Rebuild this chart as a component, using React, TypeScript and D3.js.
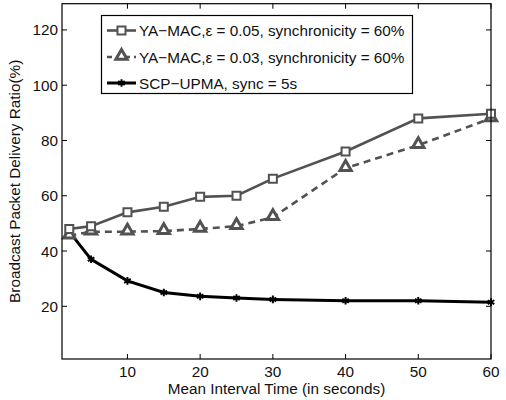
import React, { useRef, useEffect } from "react";
import * as d3 from "d3";

const xValues = [2, 5, 10, 15, 20, 25, 30, 40, 50, 60];
const yaMac05 = [48, 49, 54, 56, 59.6, 60, 66.2, 76, 88, 89.7];
const yaMac03 = [45.5, 47, 47, 47.2, 48, 49, 52.2, 70, 78.3, 88];
const scpUpma = [47, 37, 29.2, 25, 23.6, 23, 22.5, 22, 22, 21.5];
const xTicks = [10, 20, 30, 40, 50, 60];
const yTicks = [20, 40, 60, 80, 100, 120];
const legendLabels = [
  "YA\u2212MAC,\u03b5 = 0.05, synchronicity = 60%",
  "YA\u2212MAC,\u03b5 = 0.03, synchronicity = 60%",
  "SCP\u2212UPMA, sync = 5s",
];

const GRAY = "#525252";

const App = () => {
  const svgRef = useRef<SVGSVGElement>(null);

  useEffect(() => {
    document.body.style.margin = "0";
    const width = 506;
    const height = 400;
    const left = 62;
    const right = 491;
    const top = 3.7;
    const bottom = 359;
    const font = "'Liberation Sans', Arial, sans-serif";
    const fs = 15.3;

    const svg = d3
      .select(svgRef.current)
      .attr("width", width)
      .attr("height", height);
    svg.selectAll("*").remove();

    const x = d3.scaleLinear().domain([1, 60]).range([left, right]);
    const y = d3.scaleLinear().domain([0.93, 129.5]).range([bottom, top]);

    // ticks (inward, both sides)
    const g = svg.append("g");
    xTicks.forEach((t) => {
      g.append("line").attr("x1", x(t)).attr("x2", x(t)).attr("y1", bottom).attr("y2", bottom - 5).attr("stroke", "#000");
      g.append("line").attr("x1", x(t)).attr("x2", x(t)).attr("y1", top).attr("y2", top + 5).attr("stroke", "#000");
      g.append("text")
        .attr("x", x(t))
        .attr("y", bottom + 17.5)
        .attr("text-anchor", "middle")
        .attr("font-family", font)
        .attr("font-size", fs)
        .attr("fill", "#111")
        .text(t);
    });
    yTicks.forEach((t) => {
      g.append("line").attr("x1", left).attr("x2", left + 5).attr("y1", y(t)).attr("y2", y(t)).attr("stroke", "#000");
      g.append("line").attr("x1", right).attr("x2", right - 5).attr("y1", y(t)).attr("y2", y(t)).attr("stroke", "#000");
      g.append("text")
        .attr("x", left - 4)
        .attr("y", y(t) + 5.5)
        .attr("text-anchor", "end")
        .attr("font-family", font)
        .attr("font-size", fs)
        .attr("fill", "#111")
        .text(t);
    });

    const line = d3
      .line<number>()
      .x((_, i) => x(xValues[i]))
      .y((d) => y(d));

    const tri = d3.symbol().type(d3.symbolTriangle).size(55);
    const sq = d3.symbol().type(d3.symbolSquare).size(64);
    const ast = d3.symbol().type(d3.symbolAsterisk).size(40);

    // SCP-UPMA
    svg.append("path").datum(scpUpma).attr("d", line).attr("fill", "none").attr("stroke", "#000").attr("stroke-width", 3);
    svg
      .selectAll(".ast")
      .data(scpUpma)
      .join("path")
      .attr("transform", (d, i) => `translate(${x(xValues[i])},${y(d)})`)
      .attr("d", ast)
      .attr("fill", "none")
      .attr("stroke", "#000")
      .attr("stroke-width", 2);

    // YA-MAC 0.03
    svg
      .append("path")
      .datum(yaMac03)
      .attr("d", line)
      .attr("fill", "none")
      .attr("stroke", GRAY)
      .attr("stroke-width", 2.6)
      .attr("stroke-dasharray", "7,5");
    svg
      .selectAll(".tri")
      .data(yaMac03)
      .join("path")
      .attr("transform", (d, i) => `translate(${x(xValues[i])},${y(d) - 1})`)
      .attr("d", tri)
      .attr("fill", "#fff")
      .attr("stroke", GRAY)
      .attr("stroke-width", 3);

    // YA-MAC 0.05
    svg.append("path").datum(yaMac05).attr("d", line).attr("fill", "none").attr("stroke", GRAY).attr("stroke-width", 2.6);
    svg
      .selectAll(".sq")
      .data(yaMac05)
      .join("path")
      .attr("transform", (d, i) => `translate(${x(xValues[i])},${y(d)})`)
      .attr("d", sq)
      .attr("fill", "#fff")
      .attr("stroke", GRAY)
      .attr("stroke-width", 2);

    // frame
    svg
      .append("rect")
      .attr("x", left)
      .attr("y", top)
      .attr("width", right - left)
      .attr("height", bottom - top)
      .attr("fill", "none")
      .attr("stroke", "#000")
      .attr("stroke-width", 1.2);

    // legend
    const lg = svg.append("g");
    lg.append("rect")
      .attr("x", 101.5)
      .attr("y", 15.5)
      .attr("width", 311)
      .attr("height", 78)
      .attr("fill", "#fff")
      .attr("stroke", "#000")
      .attr("stroke-width", 1.2);
    const rowY = [30.5, 57, 83];
    const styles = [
      { stroke: GRAY, dash: null, sym: sq, sw: 2 },
      { stroke: GRAY, dash: "5,4", sym: tri, sw: 3 },
      { stroke: "#000", dash: null, sym: ast, sw: 2 },
    ];
    legendLabels.forEach((lab, i) => {
      const s = styles[i];
      lg.append("line")
        .attr("x1", 107)
        .attr("x2", 136)
        .attr("y1", rowY[i])
        .attr("y2", rowY[i])
        .attr("stroke", s.stroke)
        .attr("stroke-width", i === 2 ? 3 : 2.6)
        .attr("stroke-dasharray", s.dash);
      lg.append("path")
        .attr("transform", `translate(121.5,${rowY[i] - (i === 1 ? 1 : 0)})`)
        .attr("d", s.sym)
        .attr("fill", i === 2 ? "none" : "#fff")
        .attr("stroke", s.stroke)
        .attr("stroke-width", s.sw);
      lg.append("text")
        .attr("x", 139)
        .attr("y", rowY[i] + 5.5)
        .attr("font-family", font)
        .attr("font-size", fs)
        .attr("fill", "#111")
        .text(lab);
    });

    // axis labels
    svg
      .append("text")
      .attr("x", (left + right) / 2)
      .attr("y", bottom + 35)
      .attr("text-anchor", "middle")
      .attr("font-family", font)
      .attr("font-size", fs)
      .attr("fill", "#111")
      .text("Mean Interval Time (in seconds)");
    svg
      .append("text")
      .attr("transform", `translate(20,${(top + bottom) / 2}) rotate(-90)`)
      .attr("text-anchor", "middle")
      .attr("font-family", font)
      .attr("font-size", fs)
      .attr("fill", "#111")
      .text("Broadcast Packet Delivery Ratio(%)");
  }, []);

  return <svg ref={svgRef}></svg>;
};

export default App;
